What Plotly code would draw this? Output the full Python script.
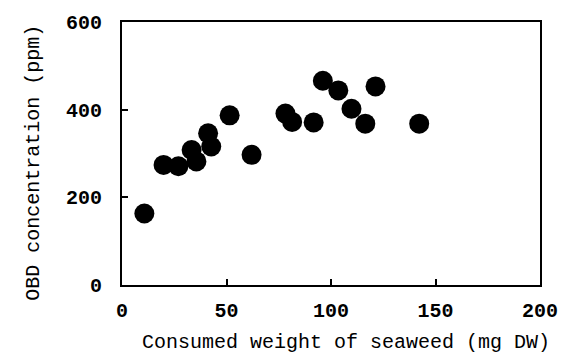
import plotly.graph_objects as go

consumed_weight = [10.7, 19.9, 27.0, 33.3, 35.6, 41.2, 42.7, 51.5, 62.0, 78.2,
                   81.4, 91.7, 96.1, 103.5, 109.8, 116.4, 121.3, 142.2]
obd_conc = [163, 274, 271, 308, 282, 346, 316, 387, 297, 391,
            372, 371, 466, 444, 402, 368, 453, 368]

x_ticks = [0, 50, 100, 150, 200]
y_ticks = [0, 200, 400, 600]

x_title = "Consumed weight of seaweed (mg DW)"
y_title = "OBD concentration (ppm)"

FONT = "Liberation Mono"

fig = go.Figure(go.Scatter(
    x=consumed_weight, y=obd_conc, mode="markers",
    marker=dict(size=20, color="black", line=dict(width=0)),
    cliponaxis=False,
))

fig.update_layout(
    width=570, height=360,
    margin=dict(l=122, r=24, t=19, b=75),
    paper_bgcolor="white", plot_bgcolor="white",
    showlegend=False,
    font=dict(family=FONT, color="black"),
    annotations=[
        dict(text=x_title, xref="paper", yref="paper", x=0.535, y=-0.218,
             xanchor="center", yanchor="middle", showarrow=False,
             font=dict(family=FONT, size=20)),
        dict(text=y_title, xref="paper", yref="paper", x=-0.212, y=0.466,
             xanchor="center", yanchor="middle", showarrow=False, textangle=-90,
             font=dict(family=FONT, size=20)),
    ],
)
fig.update_xaxes(
    range=[0, 200], tickvals=x_ticks, ticktext=[f"<b>{v}</b>" for v in x_ticks],
    showgrid=False, zeroline=False,
    showline=True, linecolor="black", linewidth=2, mirror=True,
    ticks="inside", ticklen=6, tickwidth=2, tickcolor="black",
    tickfont=dict(family=FONT, size=20),
    ticklabelstandoff=6,
)
fig.update_yaxes(
    range=[0, 600], tickvals=y_ticks, ticktext=[f"<b>{v}</b>" for v in y_ticks],
    showgrid=False, zeroline=False,
    showline=True, linecolor="black", linewidth=2, mirror=True,
    ticks="inside", ticklen=6, tickwidth=2, tickcolor="black",
    tickfont=dict(family=FONT, size=20),
    ticklabelstandoff=14,
)

fig.write_html("out.html")
